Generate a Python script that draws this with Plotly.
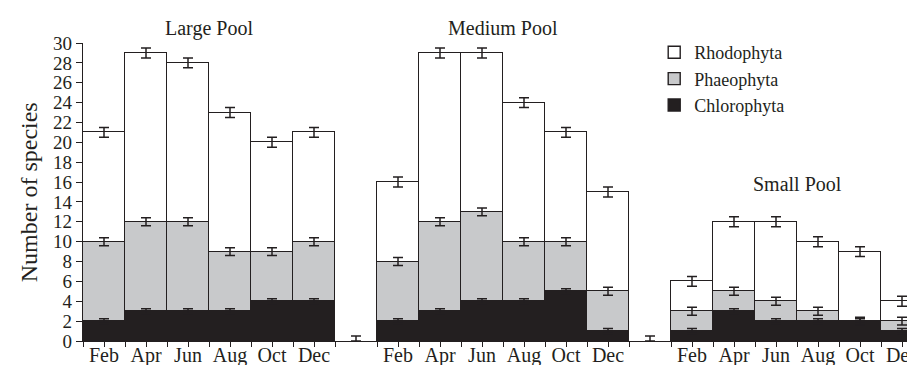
import plotly.graph_objects as go

months = ["Feb", "Apr", "Jun", "Aug", "Oct", "Dec"]
pools = ["Large Pool", "Medium Pool", "Small Pool"]

chlorophyta = {
    "Large Pool": [2, 3, 3, 3, 4, 4],
    "Medium Pool": [2, 3, 4, 4, 5, 1],
    "Small Pool": [1, 3, 2, 2, 2, 1],
}
phaeophyta = {
    "Large Pool": [8, 9, 9, 6, 5, 6],
    "Medium Pool": [6, 9, 9, 6, 5, 4],
    "Small Pool": [2, 2, 2, 1, 0, 1],
}
rhodophyta = {
    "Large Pool": [11, 17, 16, 14, 11, 11],
    "Medium Pool": [8, 17, 16, 14, 11, 10],
    "Small Pool": [3, 7, 8, 7, 7, 2],
}
err_chloro = 0.25
err_phaeo = 0.4
err_rhodo = 0.5
err_gap = 0.5

FONT = "Liberation Serif, Times New Roman, serif"
INK = "#231f20"
slot = len(months) + 1

xs, ch, ph, rh = [], [], [], []
for gi, p in enumerate(pools):
    for mi in range(len(months)):
        xs.append(gi * slot + mi)
    ch += chlorophyta[p]
    ph += phaeophyta[p]
    rh += rhodophyta[p]
gap_x = [gi * slot + len(months) for gi in range(len(pools) - 1)]

fig = go.Figure()
line = dict(color=INK, width=1.4)
fig.add_bar(x=xs, y=ch, name="Chlorophyta", marker=dict(color=INK, line=line), width=1)
fig.add_bar(x=xs, y=ph, name="Phaeophyta", marker=dict(color="#c8c9cb", line=line), width=1)
fig.add_bar(x=xs, y=rh, name="Rhodophyta", marker=dict(color="#ffffff", line=line), width=1)

cum1 = ch
cum2 = [a + b for a, b in zip(ch, ph)]
cum3 = [a + b + c for a, b, c in zip(ch, ph, rh)]
for ys, e in [(cum1, err_chloro), (cum2, err_phaeo), (cum3, err_rhodo)]:
    fig.add_scatter(x=xs, y=ys, mode="markers", marker=dict(size=1, color="rgba(0,0,0,0)"),
                    error_y=dict(type="constant", value=e, color=INK, thickness=1.5, width=5),
                    showlegend=False, hoverinfo="skip")
fig.add_scatter(x=gap_x, y=[0] * len(gap_x), mode="markers", marker=dict(size=1, color="rgba(0,0,0,0)"),
                error_y=dict(type="data", symmetric=False, array=[err_gap] * len(gap_x),
                             arrayminus=[0] * len(gap_x), color=INK, thickness=1.5, width=5),
                showlegend=False, hoverinfo="skip")
# invisible trace carrying the month-label axis
fig.add_scatter(x=xs, y=[0] * len(xs), xaxis="x2", mode="markers",
                marker=dict(size=1, color="rgba(0,0,0,0)"), showlegend=False, hoverinfo="skip")

tickvals = []
for gi in range(len(pools)):
    for k in range(2 * len(months) + 1):
        tickvals.append(gi * slot - 0.5 + k * 0.5)
label_vals = xs
label_text = months * len(pools)

for gi, p in enumerate(pools):
    center = gi * slot + (len(months) - 1) / 2
    if gi == 2:
        ytop = max(cum3[gi * len(months):(gi + 1) * len(months)])
        fig.add_annotation(x=center, y=ytop + 3.8, xref="x", yref="y", text=p, showarrow=False,
                           font=dict(family=FONT, size=20, color=INK), yanchor="middle")
    else:
        fig.add_annotation(x=center, y=1.05, xref="x", yref="paper", text=p, showarrow=False,
                           font=dict(family=FONT, size=20, color=INK), yanchor="middle")

fig.add_annotation(x=-0.064, y=0.5, xref="paper", yref="paper", text="Number of species",
                   textangle=-90, showarrow=False, xanchor="center", yanchor="middle",
                   font=dict(family=FONT, size=24, color=INK))

xr = [-0.5, slot * len(pools) - 1.5]
fig.update_layout(
    width=915, height=365,
    margin=dict(l=75, r=0, t=35, b=32),
    paper_bgcolor="white", plot_bgcolor="white",
    barmode="stack", bargap=0,
    showlegend=True,
    legend=dict(x=0.68, y=1.03, xanchor="left", yanchor="top", traceorder="reversed",
                font=dict(family=FONT, size=18, color=INK), bgcolor="rgba(0,0,0,0)",
                itemwidth=30, tracegroupgap=0),
    font=dict(family=FONT, color=INK),
    xaxis=dict(range=xr, tickmode="array", tickvals=tickvals, showticklabels=False,
               ticks="outside", ticklen=5, tickwidth=1.2, tickcolor=INK,
               showline=True, linecolor=INK, linewidth=1.4, showgrid=False, zeroline=False),
    xaxis2=dict(range=xr, overlaying="x", anchor="y", side="bottom", tickmode="array",
                tickvals=label_vals, ticktext=label_text, ticks="", showline=False,
                showgrid=False, zeroline=False, ticklabelstandoff=0,
                tickfont=dict(family=FONT, size=20, color=INK)),
    yaxis=dict(range=[0, 30], dtick=2, tick0=0, ticks="outside", ticklen=6, tickwidth=1.2, tickcolor=INK,
               showline=True, linecolor=INK, linewidth=1.4, showgrid=False, zeroline=False,
               tickfont=dict(family=FONT, size=19, color=INK)),
)

fig.write_html("out.html")
